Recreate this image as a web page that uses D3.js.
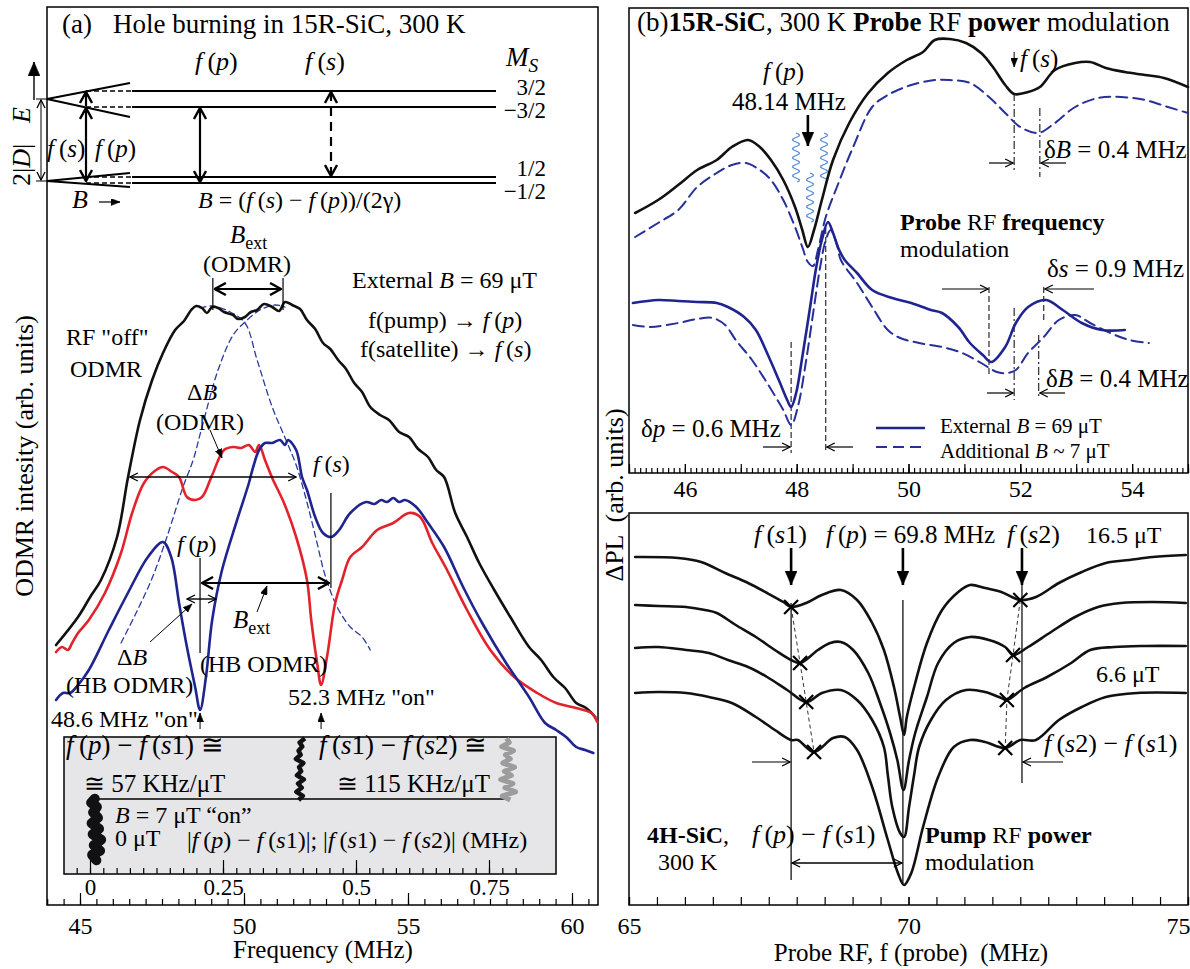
<!DOCTYPE html>
<html><head><meta charset="utf-8">
<script src="https://cdn.jsdelivr.net/npm/d3@7"></script>
<style>
body{margin:0;background:#fff}
svg{display:block}
</style></head><body>
<script>
const FONT = '"Liberation Serif", "Times New Roman", serif'

// ---- panel (a): ODMR spectra, 15R-SiC (freq in MHz, intensity in arb. units)
const freqOff = [44.27,44.94,45.31,45.64,46.13,46.46,46.83,47.20,47.53,47.90,48.17,48.39,48.54,48.72,48.87,49.03,49.21,49.39,49.67,49.82,50.03,50.21,50.40,50.61,50.86,51.07,51.25,51.47,51.71,51.92,52.17,52.41,52.63,52.87,53.11,53.36,53.60,53.85,54.15,54.42,54.73,55.03,55.31,55.61,55.86,56.10,56.44,56.80,57.17,57.63,58.12,58.69,59.06,59.43,59.79,60.13,60.43,60.71]
const odmrOff = [26.0,28.8,30.8,32.5,36.8,42.7,48.5,52.5,55.2,57.5,58.4,59.5,59.9,59.7,59.2,59.8,59.7,59.3,59.0,58.6,58.8,59.3,59.5,60.1,59.8,59.4,60.3,60.0,59.6,58.5,57.6,56.2,55.6,54.5,53.6,52.2,51.3,49.8,49.0,48.5,47.3,46.8,45.6,44.8,43.5,42.8,39.2,36.8,34.2,31.5,28.8,25.8,24.5,22.8,21.7,20.2,19.7,18.8]

const freqOn52 = [44.27,44.45,44.63,44.76,44.94,45.27,45.76,46.25,46.59,46.95,47.32,47.53,47.81,48.02,48.26,48.51,48.72,49.03,49.39,49.67,49.91,50.15,50.34,50.46,50.64,50.86,51.22,51.59,51.92,52.05,52.23,52.35,52.53,52.78,52.99,53.24,53.60,54.06,54.55,55.03,55.37,55.74,56.19,56.80,57.51,58.24,58.94,59.52,60.13,60.59,60.77]
const odmrOn52 = [25.3,25.8,25.5,26.2,27.2,28.5,31.2,35.2,39.2,42.2,43.5,43.8,43.3,42.8,40.8,40.5,40.8,43.0,45.5,45.8,45.7,46.0,45.3,46.0,44.5,42.7,40.2,36.8,32.5,28.5,24.2,22.0,24.8,30.2,32.5,34.8,35.8,37.5,38.2,39.2,38.8,36.2,33.5,29.5,25.5,22.8,21.2,20.2,19.7,19.2,18.3]

const freqOn48 = [44.27,44.48,44.70,44.94,45.27,45.88,46.46,47.07,47.53,47.78,48.02,48.26,48.51,48.66,48.84,49.03,49.33,49.79,50.15,50.28,50.46,50.64,50.86,51.10,51.25,51.34,51.59,51.77,51.92,52.17,52.41,52.66,52.90,53.24,53.72,53.97,54.18,54.36,54.55,54.73,54.91,55.25,55.61,56.10,56.68,57.26,57.99,58.69,59.18,59.52,59.82,60.13,60.40,60.65]
const odmrOn48 = [20.5,21.2,21.2,22.0,23.5,27.5,31.2,34.8,36.3,34.8,30.2,25.8,21.8,19.5,22.8,28.5,33.5,38.5,42.2,43.8,45.5,46.2,46.2,46.5,46.0,46.5,45.5,42.8,41.5,38.8,37.2,36.8,37.5,39.2,40.3,40.1,40.5,40.3,40.7,40.3,40.5,39.8,38.2,35.8,31.8,28.2,24.2,20.8,18.2,17.5,16.8,15.8,15.5,15.2]

const freqFitA = [46.25,46.71,47.20,47.65,48.14,48.45,48.72,49.21,49.67,50.03,50.49,50.95,51.25]
const fitA = [26.2,29.2,32.7,36.8,41.8,44.5,47.8,53.5,57.0,58.3,59.5,60.0,59.8]
const freqFitB = [48.66,49.03,49.58,50.03,50.40,50.86,51.28,51.59,51.86,52.17,52.47,52.84,53.24,53.60,53.85]
const fitB = [59.7,59.9,59.3,58.2,54.5,49.8,46.5,44.0,41.0,37.0,33.0,29.8,27.8,26.8,25.5]

// inset: hole position traces (x in MHz, y in arb. units)
const holeY1 = [0.10,0.14,0.17,0.21,0.25,0.29,0.33,0.37,0.41,0.45,0.49,0.52,0.55]
const holeX1 = [0.012,0.004,0.019,0.007,0.021,0.005,0.017,0.003,0.015,0.006,0.013,0.002,0.009]
const holeY2 = [0.54,0.57,0.60,0.63,0.66,0.69,0.72,0.75,0.78,0.81,0.84,0.87,0.90,0.93,0.96,0.99]
const holeX2 = [0.392,0.400,0.388,0.398,0.391,0.402,0.389,0.397,0.393,0.401,0.387,0.396,0.392,0.399,0.394,0.404]
const holeX3 = [0.790,0.775,0.800,0.780,0.795,0.772,0.792,0.779,0.798,0.776,0.790,0.781,0.796,0.774,0.788,0.783]

// ---- panel (b) top: 15R-SiC probe modulation
const freqPow = [45.11,45.52,45.88,46.22,46.57,46.84,47.13,47.34,47.54,47.76,47.97,48.10,48.20,48.31,48.45,48.65,48.94,49.28,49.63,49.97,50.26,50.47,50.74,51.03,51.30,51.51,51.73,51.89,52.14,52.35,52.62,52.98,53.25,53.53,53.87,54.23,54.57,55.00]
const pow = [26.0,27.3,28.8,30.3,31.3,32.6,33.3,32.6,31.3,29.3,26.6,24.3,22.6,24.3,27.3,31.3,35.0,38.0,40.0,41.3,42.1,43.3,43.4,43.0,42.0,40.6,38.8,37.9,38.1,38.6,40.3,41.0,41.1,40.5,40.1,39.8,39.5,38.6]
const freqPowAdd = [45.11,45.52,45.88,46.22,46.57,46.84,47.09,47.34,47.54,47.76,47.97,48.10,48.20,48.29,48.38,48.52,48.72,49.01,49.35,49.63,50.05,50.47,50.74,51.10,51.44,51.73,52.00,52.32,52.62,52.98,53.39,53.80,54.23,54.64,55.00]
const powAdd = [23.6,25.0,26.3,28.6,30.0,30.8,31.0,30.3,29.3,27.3,24.6,22.6,21.1,20.7,22.3,25.6,28.6,32.6,36.6,37.8,38.8,39.3,39.3,39.0,37.6,36.0,34.6,34.0,35.0,36.6,37.5,37.6,37.3,36.6,36.0]
const freqFrq = [45.07,45.52,45.88,46.22,46.57,46.77,47.06,47.27,47.47,47.68,47.83,47.90,47.99,48.10,48.24,48.35,48.45,48.56,48.65,48.76,48.86,49.08,49.35,49.71,50.05,50.40,50.60,50.89,51.10,51.33,51.48,51.73,51.92,52.14,52.46,52.76,53.10,53.46,53.87]
const frq = [17.0,17.3,17.2,17.1,17.0,16.6,15.6,14.3,12.0,9.3,7.3,6.6,8.0,11.6,16.6,20.6,23.3,25.1,24.0,22.3,21.3,20.0,18.3,17.5,17.0,16.3,16.0,14.6,13.0,11.8,11.1,12.6,15.0,16.6,17.3,16.3,15.0,14.3,14.3]
const freqFrqAdd = [45.07,45.39,45.88,46.22,46.50,46.72,46.91,47.20,47.47,47.76,47.90,48.02,48.17,48.31,48.42,48.52,48.61,48.72,48.79,49.08,49.35,49.63,49.85,50.19,50.60,50.96,51.30,51.58,51.76,51.92,52.14,52.42,52.69,52.98,53.25,53.61,53.95,54.30]
const frqAdd = [14.8,14.6,15.0,15.4,15.5,14.8,13.3,11.3,9.0,6.3,4.8,6.6,11.3,16.6,20.6,23.3,24.3,22.8,21.3,19.0,16.6,14.3,13.5,13.0,12.6,12.0,11.0,10.1,10.0,10.3,12.0,13.6,15.3,15.8,15.0,14.0,13.3,13.0]

// ---- panel (b) bottom: 4H-SiC pump modulation, four fields
const freqP1 = [65.11,65.88,66.29,66.72,67.13,67.47,67.76,67.90,68.17,68.45,68.79,69.08,69.35,69.56,69.74,69.85,69.92,69.97,70.12,70.33,70.60,70.89,71.10,71.37,71.66,71.85,72.00,72.28,72.69,73.10,73.53,73.95,74.37,74.96]
const pl1 = [34.8,34.7,34.3,33.2,32.2,31.2,30.3,29.8,30.2,31.0,31.5,30.5,28.2,25.5,21.8,18.8,17.0,18.8,22.2,26.2,29.5,31.3,32.0,31.7,31.3,30.8,30.5,30.8,32.2,33.3,34.2,34.5,34.8,35.0]
const freqP2 = [65.11,65.52,66.02,66.36,66.57,66.91,67.27,67.61,67.90,68.06,68.38,68.60,68.79,69.01,69.28,69.49,69.67,69.80,69.91,70.01,70.12,70.33,70.53,70.81,71.10,71.44,71.73,71.87,72.14,72.55,72.98,73.39,73.80,74.37,74.96]
const pl2 = [30.0,29.9,29.8,29.5,29.2,28.0,26.8,25.5,24.5,24.2,25.5,26.2,26.3,25.5,23.2,20.2,17.2,14.5,11.5,14.5,17.2,20.8,24.2,26.2,26.8,26.5,25.8,25.0,25.8,27.3,28.8,29.8,30.2,30.3,30.2]
const freqP3 = [65.11,65.52,66.02,66.43,66.77,67.13,67.47,67.83,68.17,68.45,68.79,69.08,69.35,69.56,69.63,69.71,69.85,69.92,70.01,70.10,70.19,70.40,70.67,71.03,71.37,71.66,71.76,72.07,72.48,72.91,73.25,73.68,74.23,74.96]
const pl3 = [25.7,25.8,25.5,25.2,24.5,23.8,22.8,21.5,20.3,21.2,21.5,20.5,18.5,15.8,13.0,9.8,7.2,6.8,9.8,13.0,15.8,18.5,20.5,21.5,21.3,20.7,20.5,21.7,22.8,24.2,25.5,25.8,25.9,25.9]
const freqP4 = [65.11,65.52,66.02,66.43,66.84,67.27,67.61,67.90,68.02,68.31,68.65,68.86,69.08,69.35,69.63,69.81,69.92,70.05,70.26,70.53,70.81,71.10,71.37,71.73,72.00,72.28,72.69,73.10,73.53,74.09,74.96]
const pl4 = [21.2,21.3,21.2,20.8,20.2,18.8,17.5,16.5,16.5,15.3,16.7,16.8,15.5,11.8,6.5,3.2,2.0,3.2,7.8,12.8,15.8,16.5,16.3,15.7,16.5,16.5,18.5,19.8,20.8,21.2,21.2]
const s1Freq = [67.90, 68.06, 68.17, 68.31]
const s1Val = [29.8, 24.2, 20.3, 15.3]
const s2Freq = [72.00, 71.87, 71.76, 71.73]
const s2Val = [30.5, 25.0, 20.5, 15.7]

// tick labels
const ticksA = [45, 50, 55, 60]
const ticksInset = [0, 0.25, 0.5, 0.75]
const ticksBTop = [46, 48, 50, 52, 54]
const ticksBBot = [65, 70, 75]

const svg = d3.select('body').append('svg').attr('width', 1190).attr('height', 969)
  .attr('font-family', FONT)
svg.append('rect').attr('width', 1190).attr('height', 969).attr('fill', '#fff')

const xA = d3.scaleLinear().domain([45, 60]).range([80, 572])
const yA = d3.scaleLinear().domain([0, 89.8]).range([905, 7])
const xI = d3.scaleLinear().domain([0, 0.75]).range([90, 489])
const yI = d3.scaleLinear().domain([0, 1]).range([874, 737])
const xB = d3.scaleLinear().domain([45, 55]).range([629, 1188])
const yB = d3.scaleLinear().domain([0, 46.5]).range([473, 8])
const xC = d3.scaleLinear().domain([65, 75]).range([629, 1188])
const yC = d3.scaleLinear().domain([0, 39.2]).range([905, 513])

const defs = svg.append('defs')
function marker(id, d, fill, w, h, sw) {
  defs.append('marker').attr('id', id).attr('viewBox', `0 0 ${w} ${h}`)
    .attr('refX', w - 1).attr('refY', h / 2).attr('markerWidth', w).attr('markerHeight', h)
    .attr('markerUnits', 'userSpaceOnUse').attr('orient', 'auto-start-reverse')
    .append('path').attr('d', d).attr('fill', fill ? '#000' : 'none')
    .attr('stroke', '#000').attr('stroke-width', sw).attr('stroke-linejoin', 'miter')
}
marker('open', 'M1,1 L9,5 L1,9', false, 10, 10, 1.3)
marker('openB', 'M1,1 L12,7 L1,13', false, 13, 14, 2.4)
marker('fill', 'M0,0 L14,6 L0,12 Z', true, 15, 12, 0.5)
marker('fillS', 'M0,0 L9,3.5 L0,7 Z', true, 10, 7, 0.5)

function seg(x1, y1, x2, y2, o = {}) {
  const l = svg.append('line').attr('x1', x1).attr('y1', y1).attr('x2', x2).attr('y2', y2)
    .attr('stroke', o.color || '#000').attr('stroke-width', o.w || 1.2)
  if (o.dash) l.attr('stroke-dasharray', o.dash)
  if (o.end) l.attr('marker-end', `url(#${o.end})`)
  if (o.start) l.attr('marker-start', `url(#${o.start})`)
  return l
}

function label(x, y, parts, size = 24, anchor = 'start', rot = 0) {
  const t = svg.append('text').attr('font-size', size).attr('text-anchor', anchor).attr('fill', '#000')
    .attr('transform', `translate(${x},${y})` + (rot ? ` rotate(${rot})` : ''))
    .style('white-space', 'pre')
  let shift = 0
  ;(typeof parts === 'string' ? [parts] : parts).forEach(p => {
    const [s, st = ''] = Array.isArray(p) ? p : [p]
    const ts = t.append('tspan').text(s)
    if (st.includes('i')) ts.attr('font-style', 'italic')
    if (st.includes('b')) ts.attr('font-weight', 'bold')
    const want = st.includes('_') ? Math.round(size * 0.22) : 0
    if (want !== shift) { ts.attr('dy', want - shift); shift = want }
    if (st.includes('_')) ts.attr('font-size', size * 0.72)
  })
  return t
}
// f(p), f(s1) ... : italic f and letters, upright digits
const F = a => [['f', 'i'], '\u2009(', [a.replace(/[0-9]/g, ''), 'i'], a.replace(/[^0-9]/g, '') + ')']

function curve(xs, ys, fx, fy, color, w, dash) {
  const p = svg.append('path').datum(d3.zip(xs, ys))
    .attr('d', d3.line().x(d => fx(d[0])).y(d => fy(d[1])).curve(d3.curveCatmullRom.alpha(0.5)))
    .attr('fill', 'none').attr('stroke', color).attr('stroke-width', w)
    .attr('stroke-linejoin', 'round').attr('stroke-linecap', 'round')
  if (dash) p.attr('stroke-dasharray', dash)
}

function axis(scale, y, vals, len, labels, pad, size) {
  const g = svg.append('g').attr('transform', `translate(0,${y})`)
    .call(d3.axisBottom(scale).tickValues(vals).tickSize(-len).tickPadding(pad)
      .tickFormat(labels ? (d => d) : ''))
  g.select('.domain').remove()
  g.selectAll('line').attr('stroke', '#000').attr('stroke-width', 1.2)
  g.selectAll('text').attr('font-size', size).attr('font-family', FONT).attr('fill', '#000')
  return g
}

// ---------- frames
;[[47, 7, 551, 898], [629, 8, 559, 465], [629, 513, 559, 392]].forEach(([x, y, w, h]) =>
  svg.append('rect').attr('x', x).attr('y', y).attr('width', w).attr('height', h)
    .attr('fill', 'none').attr('stroke', '#000').attr('stroke-width', 1.5))

// ================= panel (a)
label(62, 33, '(a)', 27)
label(113, 33, 'Hole burning in 15R-SiC, 300 K', 27)

// energy level diagram
;[91, 107, 177, 183].forEach(y => seg(132, y, 496, y, { w: 2.2 }))
seg(47, 99, 130, 83, { w: 2 }); seg(47, 99, 130, 117, { w: 2 })
seg(47, 181, 130, 173, { w: 2 }); seg(47, 181, 130, 187, { w: 2 })
;[[86, 91], [86, 107], [86, 177], [86, 183]].forEach(([x, y]) => seg(x, y, 132, y, { w: 1.3, dash: '5,3' }))
seg(86, 106, 86, 92, { w: 2.2, end: 'openB' })
seg(86, 108, 86, 181, { w: 2.2, start: 'openB', end: 'openB' })
seg(200, 108, 200, 182, { w: 2.2, start: 'openB', end: 'openB' })
seg(331, 92, 331, 176, { w: 2.2, start: 'openB', end: 'openB', dash: '9,6' })
seg(34, 100, 34, 62, { w: 1.4, end: 'fill' })
seg(41, 100, 41, 180, { w: 1, start: 'open', end: 'open' })
seg(36, 99, 47, 99, { w: 1 }); seg(36, 181, 47, 181, { w: 1 })
label(30, 186, ['2|', ['D', 'i'], '|'], 26, 'start', -90)
label(30, 123, [['E', 'i']], 26, 'start', -90)
label(195, 70, F('p'), 26); label(305, 70, F('s'), 26)
label(47, 157, F('s'), 25); label(95, 157, F('p'), 25)
label(506, 66, [['M', 'i'], ['S', 'i_']], 27)
label(546, 95, '3/2', 23, 'end'); label(546, 118, '\u22123/2', 23, 'end')
label(546, 176, '1/2', 23, 'end'); label(546, 199, '\u22121/2', 23, 'end')
label(72, 208, [['B', 'i']], 26)
seg(99, 202, 120, 202, { w: 1.2, end: 'fillS' })
label(198, 208, [['B', 'i'], ' = (', ...F('s'), ' \u2212 ', ...F('p'), ')/(2\u03b3)'], 24)

// Gaussian components (dashed)
curve(freqFitA, fitA, xA, yA, '#2b3aa0', 1.3, '6,4')
curve(freqFitB, fitB, xA, yA, '#2b3aa0', 1.3, '6,4')
// spectra
curve(freqOff, odmrOff, xA, yA, '#111', 2.6)
curve(freqOn52, odmrOn52, xA, yA, '#e3232c', 2.6)
curve(freqOn48, odmrOn48, xA, yA, '#1f248f', 2.6)

// annotations on spectra
label(230, 243, [['B', 'i'], ['ext', '_']], 25)
label(247, 272, '(ODMR)', 24, 'middle')
seg(xA(49.05), 278, xA(49.05), 310, { w: 1.2 }); seg(xA(51.19), 278, xA(51.19), 310, { w: 1.2 })
seg(xA(49.05) + 2, 289, xA(51.19) - 2, 289, { w: 2, start: 'openB', end: 'openB' })
label(352, 288, ['External ', ['B', 'i'], ' = 69 \u03bcT'], 24)
label(368, 328, ['f(pump) \u2192 ', ...F('p')], 24)
label(360, 357, ['f(satellite) \u2192 ', ...F('s')], 24)
label(66, 345, 'RF "off"', 24)
label(70, 377, 'ODMR', 24)
label(187, 400, ['\u0394', ['B', 'i']], 24)
label(156, 430, '(ODMR)', 24)
seg(210, 430, 222, 458, { w: 1, end: 'fillS' })
seg(xA(46.52), 477, xA(51.59), 477, { w: 1.4, start: 'open', end: 'open' })
label(313, 472, F('s'), 24)
seg(xA(52.65), 493, xA(52.65), 588, { w: 1.2 })
label(177, 552, F('p'), 24)
seg(xA(48.66), 558, xA(48.66), 653, { w: 1.2 })
seg(xA(48.66) + 2, 583, xA(52.65) - 2, 583, { w: 2, start: 'openB', end: 'openB' })
seg(187, 599, 216, 599, { w: 1.4, start: 'open', end: 'open' })
seg(150, 642, 192, 604, { w: 1, end: 'fillS' })
label(117, 665, ['\u0394', ['B', 'i']], 24)
label(66, 693, '(HB ODMR)', 24)
label(233, 628, [['B', 'i'], ['ext', '_']], 25)
seg(257, 612, 267, 586, { w: 1, end: 'fillS' })
label(200, 672, '(HB ODMR)', 24)
label(288, 705, '52.3 MHz "on"', 24)
seg(xA(52.35), 729, xA(52.35), 713, { w: 1, end: 'fillS' })
label(51, 727, '48.6 MHz "on"', 24)
seg(xA(48.66), 729, xA(48.66), 713, { w: 1, end: 'fillS' })

// inset
svg.append('rect').attr('x', 64).attr('y', 737).attr('width', 492).attr('height', 137)
  .attr('fill', '#e6e6e8').attr('stroke', '#000').attr('stroke-width', 1.5)
axis(xI, 874, d3.range(-1, 33).map(d => d * 0.025), 6, false, 0, 22)
axis(xI, 874, ticksInset, 14, true, 5, 23)
seg(xI(0), yI(0.547), xI(0.785), yI(0.547), { w: 1.4 })
const traceLine = d3.line().x(d => xI(d[0])).y(d => yI(d[1])).curve(d3.curveLinear)
svg.append('path').datum(d3.zip(holeX1, holeY1)).attr('d', traceLine)
  .attr('fill', 'none').attr('stroke', '#111').attr('stroke-width', 10).attr('stroke-linejoin', 'round').attr('stroke-linecap', 'round')
svg.append('path').datum(d3.zip(holeX2, holeY2)).attr('d', traceLine)
  .attr('fill', 'none').attr('stroke', '#111').attr('stroke-width', 4.5).attr('stroke-linejoin', 'round')
svg.append('path').datum(d3.zip(holeX3, holeY2)).attr('d', traceLine)
  .attr('fill', 'none').attr('stroke', '#9c9c9c').attr('stroke-width', 5).attr('stroke-linejoin', 'round')
label(66, 754, [...F('p'), ' \u2212 ', ...F('s1'), ' \u2245'], 27)
label(84, 792, '\u2245 57 KHz/\u03bcT', 25)
label(319, 754, [...F('s1'), ' \u2212 ', ...F('s2'), ' \u2245'], 27)
label(337, 792, '\u2245 115 KHz/\u03bcT', 25)
label(115, 823, [['B', 'i'], ' = 7 \u03bcT \u201con\u201d'], 24)
label(115, 846, '0 \u03bcT', 24)
label(187, 848, ['|', ...F('p'), ' \u2212 ', ...F('s1'), '|; |', ...F('s1'), ' \u2212 ', ...F('s2'), '| (MHz)'], 24)

// axes (a)
axis(xA, 905, d3.range(88, 122).map(d => d / 2), 6, false, 0, 24)
axis(xA, 905, ticksA, 12, true, 12, 24)
label(323, 958, 'Frequency (MHz)', 25, 'middle')
label(33, 456, 'ODMR intesity (arb. units)', 26, 'middle', -90)

// ================= panel (b) top
label(637, 31, ['(b)', ['15R-SiC', 'b'], ', 300 K ', ['Probe', 'b'], ' RF ', ['power', 'b'], ' modulation'], 27)

// pump wave symbols
function wave(x, y1, y2) {
  const pts = d3.range(y1, y2 + 0.5, 1).map(y => [x + 3.5 * Math.sin((y - y1) / 9 * 2 * Math.PI), y])
  svg.append('path').attr('d', d3.line()(pts)).attr('fill', 'none')
    .attr('stroke', '#5a8ed8').attr('stroke-width', 1.3)
}
wave(796, 133, 182); wave(824, 133, 182); wave(810, 173, 222)

// markers / guides
seg(xB(51.89), 93, xB(51.89), 172, { w: 1, dash: '8,3,2,3' })
seg(xB(52.35), 108, xB(52.35), 177, { w: 1, dash: '8,3,2,3' })
seg(989, 163, xB(51.89) - 1, 163, { w: 1.2, end: 'open' })
seg(1066, 163, xB(52.35) + 1, 163, { w: 1.2, end: 'open' })
seg(xB(51.44), 287, xB(51.44), 377, { w: 1, dash: '6,3' })
seg(xB(52.42), 287, xB(52.42), 323, { w: 1, dash: '6,3' })
seg(xB(51.89), 308, xB(51.89), 400, { w: 1, dash: '8,3,2,3' })
seg(xB(52.33), 335, xB(52.33), 398, { w: 1, dash: '8,3,2,3' })
seg(942, 289, xB(51.44) - 1, 289, { w: 1.2, end: 'open' })
seg(1094, 289, xB(52.42) + 1, 289, { w: 1.2, end: 'open' })
seg(987, 393, xB(51.89) - 1, 393, { w: 1.2, end: 'open' })
seg(1065, 393, xB(52.33) + 1, 393, { w: 1.2, end: 'open' })
seg(xB(47.90), 342, xB(47.90), 453, { w: 1, dash: '6,3' })
seg(xB(48.52), 228, xB(48.52), 452, { w: 1, dash: '6,3' })
seg(763, 447, xB(47.90) - 1, 447, { w: 1.2, end: 'open' })
seg(853, 447, xB(48.52) + 1, 447, { w: 1.2, end: 'open' })

curve(freqPowAdd, powAdd, xB, yB, '#27309a', 2, '11,6')
curve(freqFrqAdd, frqAdd, xB, yB, '#27309a', 2, '11,6')
curve(freqPow, pow, xB, yB, '#111', 2.6)
curve(freqFrq, frq, xB, yB, '#1f248f', 2.6)

seg(xB(48.2), 115, xB(48.2), 146, { w: 2.6, end: 'fill' })
label(763, 80, F('p'), 25)
label(732, 110, '48.14 MHz', 25)
seg(xB(51.89), 52, xB(51.89), 67, { w: 1, end: 'fillS' })
label(1020, 67, F('s'), 25)
label(1044, 158, ['\u03b4', ['B', 'i'], ' = 0.4 MHz'], 25)
label(900, 230, [['Probe', 'b'], ' RF ', ['frequency', 'b']], 24)
label(900, 257, 'modulation', 24)
label(1047, 277, ['\u03b4', ['s', 'i'], ' = 0.9 MHz'], 25)
label(1046, 387, ['\u03b4', ['B', 'i'], ' = 0.4 MHz'], 25)
label(641, 437, ['\u03b4', ['p', 'i'], ' = 0.6 MHz'], 25)
seg(876, 428, 925, 428, { w: 2.6, color: '#1f248f' })
seg(876, 447, 925, 447, { w: 2, color: '#27309a', dash: '11,6' })
label(940, 433, ['External ', ['B', 'i'], ' = 69 \u03bcT'], 21)
label(940, 458, ['Additional ', ['B', 'i'], ' ~ 7 \u03bcT'], 21)

axis(xB, 473, d3.range(450, 551).map(d => d / 10), 5, false, 0, 22)
axis(xB, 473, d3.range(45, 56), 9, false, 0, 22)
axis(xB, 473, ticksBTop, 9, true, 7, 24)

// ================= panel (b) bottom
seg(xC(67.90), 603, xC(67.90), 880, { w: 1.2 })
seg(xC(69.90), 600, xC(69.90), 883, { w: 1.2 })
seg(xC(72.03), 585, xC(72.03), 783, { w: 1.2 })
seg(xC(67.90), 548, xC(67.90), 585, { w: 2.6, end: 'fill' })
seg(xC(69.90), 548, xC(69.90), 585, { w: 2.6, end: 'fill' })
seg(xC(72.03), 548, xC(72.03), 585, { w: 2.6, end: 'fill' })

;[[freqP1, pl1], [freqP2, pl2], [freqP3, pl3], [freqP4, pl4]].forEach(([f, v]) =>
  curve(f, v, xC, yC, '#111', 2.6))

;[[s1Freq, s1Val], [s2Freq, s2Val]].forEach(([f, v]) => {
  svg.append('path').datum(d3.zip(f, v))
    .attr('d', d3.line().x(d => xC(d[0])).y(d => yC(d[1])))
    .attr('fill', 'none').attr('stroke', '#333').attr('stroke-width', 1).attr('stroke-dasharray', '4,3')
  svg.selectAll(null).data(d3.zip(f, v)).enter().append('path')
    .attr('transform', d => `translate(${xC(d[0])},${yC(d[1])})`)
    .attr('d', 'M-7,-7L7,7M-7,7L7,-7').attr('stroke', '#000').attr('stroke-width', 2.2)
})

label(754, 543, F('s1'), 26)
label(826, 543, [...F('p'), ' = 69.8 MHz'], 25)
label(1007, 543, F('s2'), 26)
label(1086, 543, '16.5 \u03bcT', 24)
label(1096, 682, '6.6 \u03bcT', 24)
label(1044, 752, [...F('s2'), ' \u2212 ', ...F('s1')], 26)
seg(752, 762, xC(67.90) - 1, 762, { w: 1.2, end: 'open' })
seg(1063, 762, xC(72.03) + 1, 762, { w: 1.2, end: 'open' })
label(647, 843, [['4H-SiC', 'b'], ','], 24)
label(658, 870, '300 K', 24)
label(752, 843, [...F('p'), ' \u2212 ', ...F('s1')], 26)
seg(xC(67.90) + 1, 863, xC(69.90) - 1, 863, { w: 1.4, start: 'open', end: 'open' })
label(925, 843, [['Pump', 'b'], ' RF ', ['power', 'b']], 24)
label(925, 870, 'modulation', 24)

axis(xC, 905, d3.range(130, 151).map(d => d / 2), 8, false, 0, 24)
axis(xC, 905, ticksBBot, 8, true, 12, 24)
  .selectAll('text').filter(d => d === 75).attr('text-anchor', 'end').attr('x', 2)
label(911, 961, 'Probe RF, f (probe)  (MHz)', 25, 'middle')
label(623, 495, '\u0394PL  (arb. units)', 26, 'middle', -90)
</script></body></html>
